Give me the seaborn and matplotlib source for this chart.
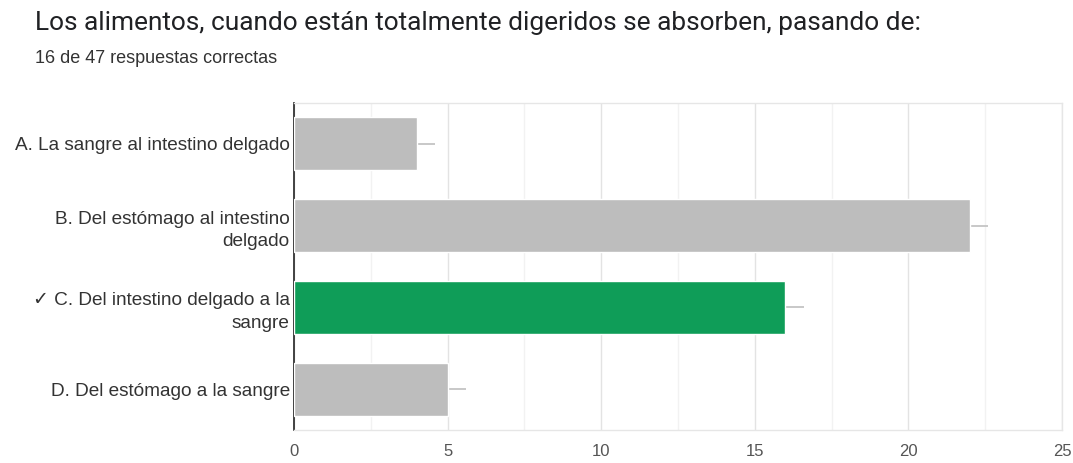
import matplotlib
matplotlib.use("Agg")
import matplotlib.pyplot as plt
import seaborn as sns
import numpy as np

# Survey answer counts
categories = [
    "A. La sangre al intestino delgado",
    "B. Del estómago al intestino\ndelgado",
    "✓ C. Del intestino delgado a la\nsangre",
    "D. Del estómago a la sangre",
]
counts = [4, 22, 16, 5]
spread = [0.6, 0.6, 0.6, 0.6]
bar_colors = ["#bdbdbd", "#bdbdbd", "#0f9d58", "#bdbdbd"]
x_ticks = [0, 5, 10, 15, 20, 25]

title = "Los alimentos, cuando están totalmente digeridos se absorben, pasando de:"
subtitle = "16 de 47 respuestas correctas"

sns.set_theme(style="white")
plt.rcParams["font.family"] = ["Liberation Sans", "DejaVu Sans"]

fig = plt.figure(figsize=(10.73, 4.63), dpi=100)
ax = fig.add_axes([0.274, 0.071, 0.7157, 0.7065])

sns.barplot(x=counts, y=categories, hue=categories, palette=bar_colors,
            legend=False, width=0.65, ax=ax, saturation=1, zorder=3)

ypos = np.arange(len(categories))
ax.errorbar(counts, ypos, xerr=[np.zeros(len(spread)), spread], fmt="none",
            ecolor="#c4c4c4", elinewidth=1.3, capsize=0, zorder=2)

ax.set_xlim(0, 25)
ax.set_ylim(3.5, -0.5)
ax.set_xticks(x_ticks)
ax.set_xticks(np.arange(2.5, 25, 5), minor=True)
ax.grid(axis="x", which="major", color="#e3e3e3", linewidth=1, zorder=0)
ax.grid(axis="x", which="minor", color="#f2f2f2", linewidth=1, zorder=0)
ax.set_axisbelow(True)

for side in ["top", "right", "bottom"]:
    ax.spines[side].set_color("#e6e6e6")
    ax.spines[side].set_linewidth(1)
ax.spines["left"].set_color("#333333")
ax.spines["left"].set_linewidth(1.3)

ax.tick_params(axis="x", which="both", length=0, pad=10, labelsize=12,
               labelcolor="#555555")
ax.tick_params(axis="y", length=0, pad=3, labelsize=13.7, labelcolor="#333333")
for lbl in ax.get_yticklabels():
    lbl.set_linespacing(1.42)
ax.set_xlabel("")
ax.set_ylabel("")

fig.text(0.033, 0.950, title, fontsize=18.9, color="#202124", va="center", ha="left",
         family=["Roboto", "DejaVu Sans"])
fig.text(0.033, 0.873, subtitle, fontsize=13, color="#333333", va="center", ha="left")

fig.savefig("out.png", dpi=100)
